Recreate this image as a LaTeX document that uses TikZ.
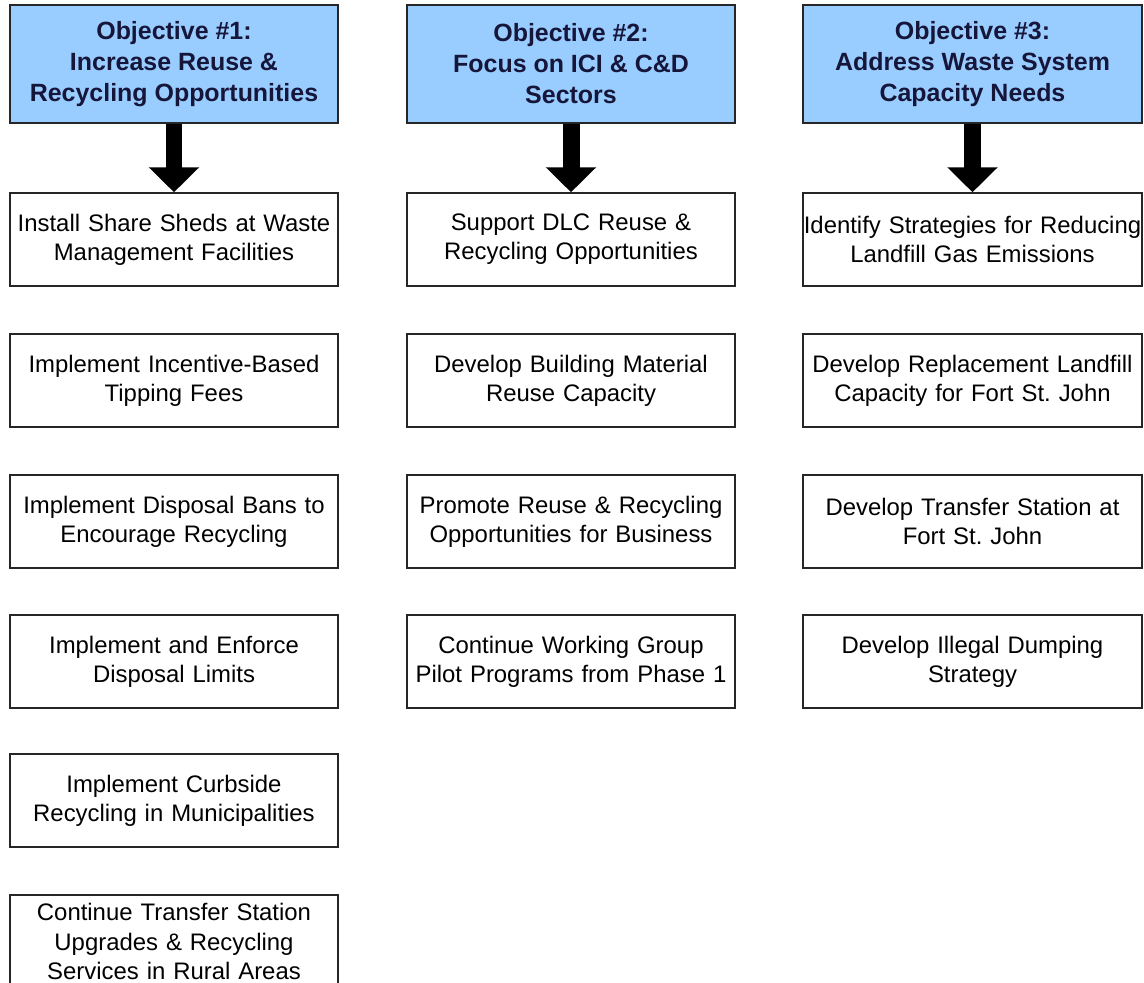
\documentclass[tikz,border=0pt]{standalone}
\usepackage{fontspec}
\setmainfont{Liberation Sans}
\usetikzlibrary{arrows.meta}

\definecolor{objfill}{RGB}{153,204,255}
\definecolor{objtext}{RGB}{22,22,58}

\tikzset{
  objbox/.style={draw=black!85,line width=0.03cm,fill=objfill,text=objtext,
    minimum width=6.56cm,minimum height=2.36cm,inner sep=0pt,align=center,
    font=\fontsize{14.2}{17.6}\selectfont\bfseries},
  objbox3/.style={objbox,minimum width=6.78cm},
  taskbox/.style={draw=black!85,line width=0.03cm,fill=white,
    text width=6.56cm,minimum height=1.86cm,inner sep=0pt,align=center,
    font=\fontsize{13.6}{16.6}\selectfont},
  taskbox3/.style={taskbox,text width=6.78cm},
  bigarrow/.style={line width=0.34cm,-{Triangle[length=0.5cm,width=0.98cm]}}
}

\begin{document}
\begin{tikzpicture}[x=0.02cm,y=-0.02cm]
  \useasboundingbox[fill=white] (0,0) rectangle (1144,983);

  % Objective #1
  \node[objbox] (obj1) at (174,64) {Objective \#1:\\Increase Reuse \&\\Recycling Opportunities};
  \node[taskbox] (a1) at (174,239.5) {Install Share Sheds at Waste\\Management Facilities};
  \node[taskbox] (a2) at (174,380.5) {Implement Incentive-Based\\Tipping Fees};
  \node[taskbox] (a3) at (174,521.5) {Implement Disposal Bans to\\Encourage Recycling};
  \node[taskbox] (a4) at (174,661.5) {Implement and Enforce\\Disposal Limits};
  \node[taskbox] (a5) at (174,800.5) {Implement Curbside\\Recycling in Municipalities};
  \node[taskbox] (a6) at (174,941.5) {Continue Transfer Station\\Upgrades \& Recycling\\Services in Rural Areas};
  \draw[bigarrow] (obj1.south) -- (a1.north);

  % Objective #2
  \node[objbox] (obj2) at (571,64) {Objective \#2:\\Focus on ICI \& C\&D\\Sectors};
  \node[taskbox] (b1) at (571,239.5) {Support DLC Reuse \&\\Recycling Opportunities};
  \node[taskbox] (b2) at (571,380.5) {Develop Building Material\\Reuse Capacity};
  \node[taskbox] (b3) at (571,521.5) {Promote Reuse \& Recycling\\Opportunities for Business};
  \node[taskbox] (b4) at (571,661.5) {Continue Working Group\\Pilot Programs from Phase 1};
  \draw[bigarrow] (obj2.south) -- (b1.north);

  % Objective #3
  \node[objbox3] (obj3) at (972.5,64) {Objective \#3:\\Address Waste System\\Capacity Needs};
  \node[taskbox3] (c1) at (972.5,239.5) {\mbox{Identify Strategies for Reducing}\\Landfill Gas Emissions};
  \node[taskbox3] (c2) at (972.5,380.5) {Develop Replacement Landfill\\Capacity for Fort St.\ John};
  \node[taskbox3] (c3) at (972.5,521.5) {Develop Transfer Station at\\Fort St.\ John};
  \node[taskbox3] (c4) at (972.5,661.5) {Develop Illegal Dumping\\Strategy};
  \draw[bigarrow] (obj3.south) -- (c1.north);
\end{tikzpicture}
\end{document}
